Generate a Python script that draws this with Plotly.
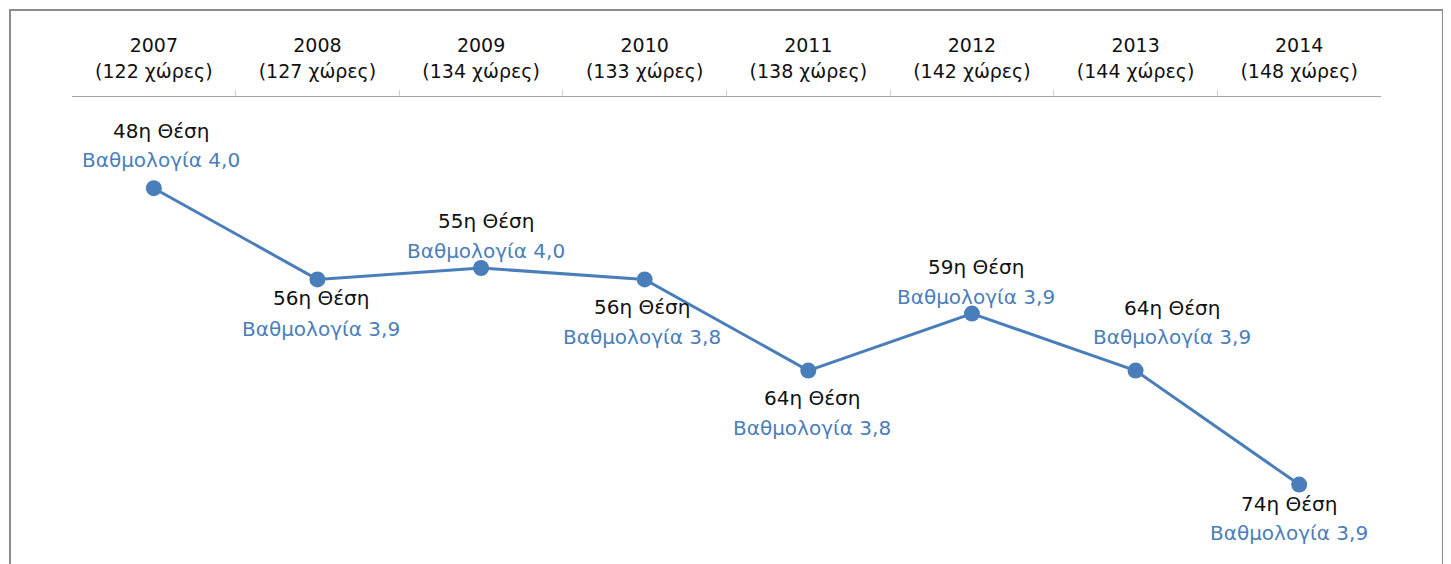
import plotly.graph_objects as go

years = ["2007", "2008", "2009", "2010", "2011", "2012", "2013", "2014"]
countries = [122, 127, 134, 133, 138, 142, 144, 148]
ranks = [48, 56, 55, 56, 64, 59, 64, 74]
scores = [4.0, 3.9, 4.0, 3.8, 3.8, 3.9, 3.9, 3.9]

# label offsets (pixels) relative to each marker: (dx, dy of rank line, dy of score line)
label_offsets = [(7, 57, 28), (4, -19, -50), (5, 47, 17), (-3, -28, -58),
                 (4, -27, -57), (4, 47, 17), (36, 63, 34), (-10, -19, -48)]

BLUE = "#4A7EBB"
FONT = "DejaVu Sans"
xs = list(range(len(years)))

fig = go.Figure()
fig.add_trace(go.Scatter(
    x=xs, y=ranks, mode="lines+markers",
    line=dict(color=BLUE, width=3),
    marker=dict(color=BLUE, size=16),
    hoverinfo="skip", showlegend=False,
))
# invisible trace for the second (year) axis
fig.add_trace(go.Scatter(x=xs, y=ranks, xaxis="x2", mode="markers",
                         marker=dict(opacity=0), hoverinfo="skip", showlegend=False))

annotations = []
for i, (r, s) in enumerate(zip(ranks, scores)):
    dx, dy1, dy2 = label_offsets[i]
    annotations.append(dict(x=xs[i], y=r, xref="x", yref="y", text=f"{r}η Θέση",
                            showarrow=False, xshift=dx, yshift=dy1,
                            font=dict(family=FONT, size=20, color="#111111"),
                            xanchor="center", yanchor="middle"))
    annotations.append(dict(x=xs[i], y=r, xref="x", yref="y",
                            text=f"Βαθμολογία {s:.1f}".replace(".", ","),
                            showarrow=False, xshift=dx, yshift=dy2,
                            font=dict(family=FONT, size=20, color=BLUE),
                            xanchor="center", yanchor="middle"))

axis_common = dict(range=[-0.5, len(years) - 0.5], showgrid=False, zeroline=False,
                   tickmode="array", tickvals=xs)

fig.update_layout(
    width=1451, height=564,
    margin=dict(l=64, r=78, t=89, b=19),
    paper_bgcolor="white", plot_bgcolor="white",
    font=dict(family=FONT, size=19, color="#111111"),
    xaxis=dict(**axis_common, side="top",
               ticktext=[f"({c} χώρες)" for c in countries],
               showline=True, linecolor="#A6A6A6", linewidth=1, ticks="",
               minor=dict(tickvals=[i + 0.5 for i in xs[:-1]], ticks="outside",
                          ticklen=6, tickcolor="#D0D0D0", tickwidth=1),
               ticklabelstandoff=10,
               tickfont=dict(family=FONT, size=19, color="#111111")),
    xaxis2=dict(**axis_common, side="top", overlaying="x", ticktext=years,
                showline=False, ticks="", ticklabelstandoff=40,
                tickfont=dict(family=FONT, size=19, color="#111111")),
    yaxis=dict(range=[80, 40], showgrid=False, zeroline=False, showticklabels=False,
               showline=False, ticks=""),
    annotations=annotations,
    shapes=[dict(type="rect", xref="paper", yref="paper",
                 x0=(10 - 72) / 1309, x1=(1443 - 72) / 1309,
                 y0=-0.05, y1=(553 - 10) / 456,
                 line=dict(color="#8C8C8C", width=2), fillcolor="rgba(0,0,0,0)",
                 layer="below")],
)

fig.write_html("out.html")
